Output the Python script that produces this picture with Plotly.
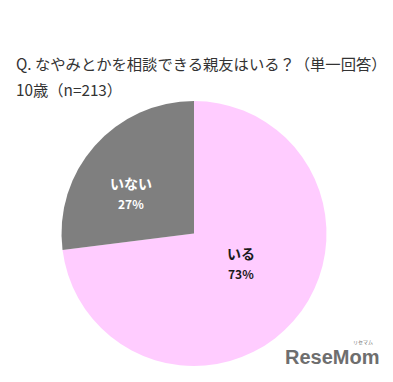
import plotly.graph_objects as go

# Survey answers: does the child have a close friend to talk to about worries?
answers = ["いる", "いない"]
shares = [73, 27]
slice_colors = ["#FFCCFF", "#7F7F7F"]
label_colors = ["#1A1A1A", "#FFFFFF"]

question = "Q. なやみとかを相談できる親友はいる？（単一回答）"
sample = "10歳（n=213）"

W, H = 393, 382
JP = "Noto Sans CJK JP, Noto Sans, sans-serif"


def px(x, y):
    return x / W, 1 - y / H


fig = go.Figure(
    go.Pie(
        labels=answers,
        values=shares,
        sort=False,
        direction="clockwise",
        rotation=0,
        marker=dict(colors=slice_colors, line=dict(width=0)),
        textinfo="none",
        hoverinfo="label+percent",
        showlegend=False,
        domain=dict(x=[61 / W, 327 / W], y=[1 - 366 / H, 1 - 101 / H]),
    )
)

annotations = []
# Question and sample size
for text, y in [(question, 63), (sample, 89)]:
    x0, y0 = px(14, y)
    annotations.append(dict(
        text=text, x=x0, y=y0, xref="paper", yref="paper",
        xanchor="left", yanchor="middle", showarrow=False,
        font=dict(family=JP, size=15.3, color="#333333"),
    ))

# Slice labels: answer name and percentage
label_pos = {"いる": (241, 253, 273), "いない": (131, 183, 203)}
for name, share, color in zip(answers, shares, label_colors):
    cx, ny, vy = label_pos[name]
    x0, y0 = px(cx, ny)
    annotations.append(dict(
        text=f"<b>{name}</b>", x=x0, y=y0, xref="paper", yref="paper",
        xanchor="center", yanchor="middle", showarrow=False,
        font=dict(family=JP, size=14, color=color),
    ))
    x1, y1 = px(cx, vy)
    annotations.append(dict(
        text=f"<b>{share}%</b>", x=x1, y=y1, xref="paper", yref="paper",
        xanchor="center", yanchor="middle", showarrow=False,
        font=dict(family=JP, size=12, color=color),
    ))

# Publisher mark
lx, ly = px(332, 357)
annotations.append(dict(
    text="<b>ReseMom</b>", x=lx, y=ly, xref="paper", yref="paper",
    xanchor="center", yanchor="middle", showarrow=False,
    font=dict(family="Liberation Sans, Arial, sans-serif", size=20, color="#6E6E6E"),
))
sx, sy = px(363, 342)
annotations.append(dict(
    text="リセマム", x=sx, y=sy, xref="paper", yref="paper",
    xanchor="center", yanchor="middle", showarrow=False,
    font=dict(family=JP, size=5, color="#6E6E6E"),
))

fig.update_layout(
    width=W, height=H,
    margin=dict(l=0, r=0, t=0, b=0),
    paper_bgcolor="#FFFFFF",
    plot_bgcolor="#FFFFFF",
    annotations=annotations,
)

fig.write_html("out.html")
